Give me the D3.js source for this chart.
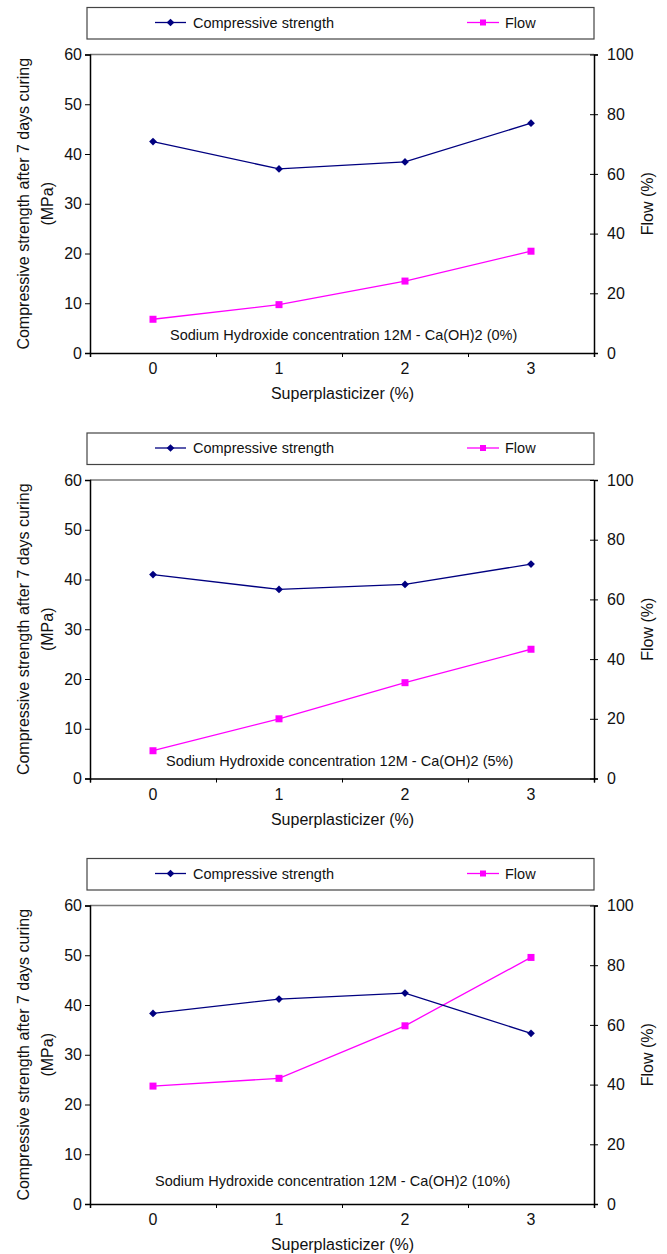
<!DOCTYPE html>
<html>
<head>
<meta charset="utf-8">
<script src="https://cdn.jsdelivr.net/npm/d3@7"></script>
<style>
  body { margin: 0; background: #fff; }
  svg text { font-family: Arial, "Liberation Sans", sans-serif; fill: #111; }
</style>
</head>
<body>
<div id="chart"></div>
<script>
const categories = ["0", "1", "2", "3"];
const leftTicks = [0, 10, 20, 30, 40, 50, 60];
const rightTicks = [0, 20, 40, 60, 80, 100];
const panelNotes = [
  "Sodium Hydroxide concentration 12M - Ca(OH)2 (0%)",
  "Sodium Hydroxide concentration 12M - Ca(OH)2 (5%)",
  "Sodium Hydroxide concentration 12M - Ca(OH)2 (10%)"
];
const strength0 = [42.5, 37.0, 38.4, 46.2];
const flow0 = [11.3, 16.2, 24.1, 34.1];
const strength5 = [41.0, 38.0, 39.0, 43.1];
const flow5 = [9.3, 20.0, 32.1, 43.3];
const strength10 = [38.3, 41.2, 42.4, 34.3];
const flow10 = [39.5, 42.1, 59.7, 82.6];

const panels = [
  { strength: strength0, flow: flow0, note: panelNotes[0], top: 0, noteX: 170, noteDy: 18 },
  { strength: strength5, flow: flow5, note: panelNotes[1], top: 425.5, noteX: 166, noteDy: 18 },
  { strength: strength10, flow: flow10, note: panelNotes[2], top: 851, noteX: 155, noteDy: 23 }
];

const width = 667;
const height = 1254;
const plotLeft = 90;
const plotRight = 594;

const svg = d3.select("#chart")
              .append("svg")
              .attr("width", width)
              .attr("height", height);

svg.append("rect").attr("width", width).attr("height", height).attr("fill", "#fff");

// square turned 45 degrees, like the Excel diamond marker
const diamond = d3.symbol().type(d3.symbolSquare).size(30);

panels.forEach((p) => {
  const g = svg.append("g").attr("transform", `translate(0,${p.top})`);
  const plotTop = 54.5;
  const plotBottom = 353;

  const xBand = d3.scaleBand().domain(categories).range([plotLeft, plotRight]);
  const xEdges = d3.scaleLinear().domain([0, categories.length]).range([plotLeft, plotRight]);
  const yLeft = d3.scaleLinear().domain([0, 60]).range([plotBottom, plotTop]);
  const yRight = d3.scaleLinear().domain([0, 100]).range([plotBottom, plotTop]);
  const cx = (i) => xBand(categories[i]) + xBand.bandwidth() / 2;

  // legend box
  g.append("rect")
   .attr("x", 87).attr("y", 7.5)
   .attr("width", 507).attr("height", 31.5)
   .attr("fill", "#fff")
   .attr("stroke", "#444")
   .attr("stroke-width", 1.2);

  const leg = g.append("g");
  leg.append("line").attr("x1", 155).attr("x2", 186).attr("y1", 22.5).attr("y2", 22.5)
     .attr("stroke", "#000080").attr("stroke-width", 1.3);
  leg.append("path").attr("d", diamond).attr("transform", "translate(170.5,22.5) rotate(45)").attr("fill", "#000080");
  leg.append("text").attr("x", 193).attr("y", 27.5).attr("font-size", 14.5).text("Compressive strength");
  leg.append("line").attr("x1", 467).attr("x2", 499).attr("y1", 22.5).attr("y2", 22.5)
     .attr("stroke", "#ff00ff").attr("stroke-width", 1.3);
  leg.append("rect").attr("x", 480).attr("y", 19.5).attr("width", 6).attr("height", 6).attr("fill", "#ff00ff");
  leg.append("text").attr("x", 505).attr("y", 27.5).attr("font-size", 14.5).text("Flow");

  // top frame line
  g.append("line")
   .attr("x1", plotLeft).attr("x2", plotRight)
   .attr("y1", plotTop).attr("y2", plotTop)
   .attr("stroke", "#7a7a7a").attr("stroke-width", 1.6);

  // left axis
  const la = g.append("g")
              .attr("transform", `translate(${plotLeft},0)`)
              .call(d3.axisLeft(yLeft).tickValues(leftTicks).tickSize(5).tickPadding(3));
  la.select(".domain").attr("stroke", "#000").attr("stroke-width", 1.5);
  la.selectAll(".tick text").attr("font-size", 16).attr("fill", "#111");

  // right axis
  const ra = g.append("g")
              .attr("transform", `translate(${plotRight},0)`)
              .call(d3.axisRight(yRight).tickValues(rightTicks).tickSize(4).tickPadding(9));
  ra.select(".domain").attr("stroke", "#000").attr("stroke-width", 1.5);
  ra.selectAll(".tick line").attr("x1", -4);
  ra.selectAll(".tick text").attr("font-size", 16).attr("fill", "#111");

  // bottom axis: ticks at band edges, labels at centres
  const ba = g.append("g")
              .attr("transform", `translate(0,${plotBottom})`)
              .call(d3.axisBottom(xEdges).ticks(categories.length).tickFormat("").tickSize(4));
  ba.select(".domain").attr("stroke", "#000").attr("stroke-width", 1.5);
  const bl = g.append("g")
              .attr("transform", `translate(0,${plotBottom})`)
              .call(d3.axisBottom(xBand).tickSize(0).tickPadding(10));
  bl.select(".domain").remove();
  bl.selectAll(".tick text").attr("font-size", 16).attr("fill", "#111");

  // axis titles
  g.append("text")
   .attr("x", (plotLeft + plotRight) / 2 + 0.5).attr("y", plotBottom + 46)
   .attr("text-anchor", "middle").attr("font-size", 16)
   .text("Superplasticizer (%)");
  const ly = (plotTop + plotBottom) / 2;
  g.append("text")
   .attr("transform", `translate(29,${ly}) rotate(-90)`)
   .attr("text-anchor", "middle").attr("font-size", 16)
   .text("Compressive strength after 7 days curing");
  g.append("text")
   .attr("transform", `translate(53,${ly}) rotate(-90)`)
   .attr("text-anchor", "middle").attr("font-size", 16)
   .text("(MPa)");
  g.append("text")
   .attr("transform", `translate(653,${ly}) rotate(-90)`)
   .attr("text-anchor", "middle").attr("font-size", 16)
   .text("Flow (%)");

  // note
  g.append("text")
   .attr("x", p.noteX).attr("y", plotBottom - p.noteDy + 5)
   .attr("font-size", 14.5)
   .text(p.note);

  // series
  const lineS = d3.line().x((d, i) => cx(i)).y((d) => yLeft(d));
  const lineF = d3.line().x((d, i) => cx(i)).y((d) => yRight(d));

  g.append("path").datum(p.flow).attr("d", lineF)
   .attr("fill", "none").attr("stroke", "#ff00ff").attr("stroke-width", 1.3);
  g.selectAll(".fpt").data(p.flow).enter().append("rect")
   .attr("class", "fpt")
   .attr("x", (d, i) => cx(i) - 3.5).attr("y", (d) => yRight(d) - 3.5)
   .attr("width", 7).attr("height", 7).attr("fill", "#ff00ff");

  g.append("path").datum(p.strength).attr("d", lineS)
   .attr("fill", "none").attr("stroke", "#000080").attr("stroke-width", 1.3);
  g.selectAll(".spt").data(p.strength).enter().append("path")
   .attr("class", "spt")
   .attr("d", diamond)
   .attr("transform", (d, i) => `translate(${cx(i)},${yLeft(d)}) rotate(45)`)
   .attr("fill", "#000080");
});
</script>
</body>
</html>
